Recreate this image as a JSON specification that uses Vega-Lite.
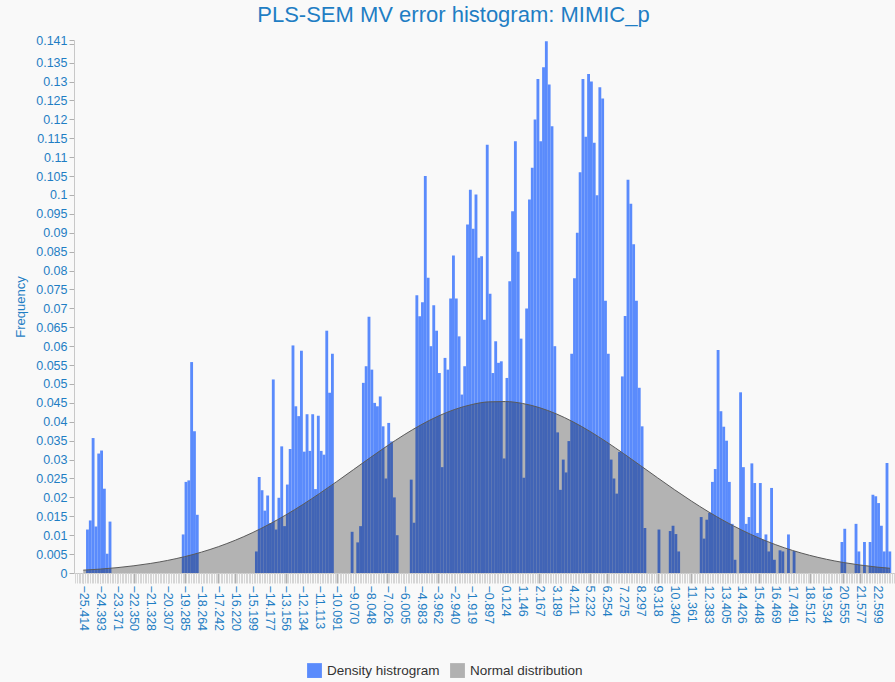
{
  "$schema": "https://vega.github.io/schema/vega-lite/v6.json",
  "width": 821,
  "height": 533,
  "autosize": {"type": "none"},
  "padding": {"left": 74, "top": 40, "right": 0, "bottom": 109},
  "background": "#f9f9f9",
  "config": {"font": "Liberation Sans", "view": {"stroke": null}},
  "title": {"text": "PLS-SEM MV error histogram: MIMIC_p", "fontSize": 22, "fontWeight": "normal", "color": "#1f7ec4", "anchor": "middle", "dx": -31, "offset": 7},
  "datasets": {
    "hist": [
      {"mid": -25.159, "freq": 0.0115}, {"mid": -24.988, "freq": 0.0139}, {"mid": -24.818, "freq": 0.0357}, {"mid": -24.648, "freq": 0.0123}, {"mid": -24.478, "freq": 0.0316}, {"mid": -24.307, "freq": 0.0324}, {"mid": -24.137, "freq": 0.0223}, {"mid": -23.967, "freq": 0.0051}, {"mid": -23.796, "freq": 0.0136},
      {"mid": -19.369, "freq": 0.0102}, {"mid": -19.199, "freq": 0.0241}, {"mid": -19.029, "freq": 0.0245}, {"mid": -18.859, "freq": 0.0558}, {"mid": -18.688, "freq": 0.0375}, {"mid": -18.518, "freq": 0.0154},
      {"mid": -14.942, "freq": 0.0057}, {"mid": -14.772, "freq": 0.0254}, {"mid": -14.602, "freq": 0.0219}, {"mid": -14.432, "freq": 0.0165}, {"mid": -14.261, "freq": 0.0205}, {"mid": -14.091, "freq": 0.0132}, {"mid": -13.921, "freq": 0.0512}, {"mid": -13.751, "freq": 0.0115}, {"mid": -13.580, "freq": 0.0199}, {"mid": -13.410, "freq": 0.0335}, {"mid": -13.240, "freq": 0.0124}, {"mid": -13.069, "freq": 0.0234}, {"mid": -12.899, "freq": 0.0328}, {"mid": -12.729, "freq": 0.0602}, {"mid": -12.559, "freq": 0.0441}, {"mid": -12.388, "freq": 0.0415}, {"mid": -12.218, "freq": 0.0588}, {"mid": -12.048, "freq": 0.0321}, {"mid": -11.878, "freq": 0.042}, {"mid": -11.707, "freq": 0.0323}, {"mid": -11.537, "freq": 0.042}, {"mid": -11.367, "freq": 0.0222}, {"mid": -11.197, "freq": 0.0416}, {"mid": -11.026, "freq": 0.0323}, {"mid": -10.856, "freq": 0.0313}, {"mid": -10.686, "freq": 0.0641}, {"mid": -10.515, "freq": 0.0477}, {"mid": -10.345, "freq": 0.058},
      {"mid": -9.153, "freq": 0.0109}, {"mid": -8.813, "freq": 0.0081}, {"mid": -8.642, "freq": 0.0124}, {"mid": -8.472, "freq": 0.0503}, {"mid": -8.302, "freq": 0.0547}, {"mid": -8.132, "freq": 0.0678}, {"mid": -7.961, "freq": 0.0538}, {"mid": -7.791, "freq": 0.045}, {"mid": -7.621, "freq": 0.0441}, {"mid": -7.451, "freq": 0.0467}, {"mid": -7.280, "freq": 0.0388}, {"mid": -7.110, "freq": 0.025}, {"mid": -6.940, "freq": 0.0397}, {"mid": -6.770, "freq": 0.0348}, {"mid": -6.599, "freq": 0.02}, {"mid": -6.429, "freq": 0.01},
      {"mid": -5.578, "freq": 0.0247}, {"mid": -5.407, "freq": 0.0133}, {"mid": -5.237, "freq": 0.0735}, {"mid": -5.067, "freq": 0.0679}, {"mid": -4.897, "freq": 0.0716}, {"mid": -4.726, "freq": 0.105}, {"mid": -4.556, "freq": 0.0781}, {"mid": -4.386, "freq": 0.06}, {"mid": -4.215, "freq": 0.0708}, {"mid": -4.045, "freq": 0.0641}, {"mid": -3.875, "freq": 0.0529}, {"mid": -3.705, "freq": 0.028}, {"mid": -3.534, "freq": 0.0569}, {"mid": -3.364, "freq": 0.0538}, {"mid": -3.194, "freq": 0.0726}, {"mid": -3.024, "freq": 0.084}, {"mid": -2.853, "freq": 0.0726}, {"mid": -2.683, "freq": 0.0626}, {"mid": -2.513, "freq": 0.0472}, {"mid": -2.342, "freq": 0.0547}, {"mid": -2.172, "freq": 0.0922}, {"mid": -2.002, "freq": 0.1014}, {"mid": -1.832, "freq": 0.0911}, {"mid": -1.661, "freq": 0.1001}, {"mid": -1.491, "freq": 0.0834}, {"mid": -1.321, "freq": 0.0838}, {"mid": -1.151, "freq": 0.067}, {"mid": -0.980, "freq": 0.1133}, {"mid": -0.810, "freq": 0.0739}, {"mid": -0.640, "freq": 0.0529}, {"mid": -0.469, "freq": 0.0613}, {"mid": -0.299, "freq": 0.0556}, {"mid": -0.129, "freq": 0.056}, {"mid": 0.041, "freq": 0.0303}, {"mid": 0.212, "freq": 0.0516}, {"mid": 0.382, "freq": 0.0772}, {"mid": 0.552, "freq": 0.0957}, {"mid": 0.722, "freq": 0.1142}, {"mid": 0.893, "freq": 0.085}, {"mid": 1.063, "freq": 0.062}, {"mid": 1.233, "freq": 0.0252}, {"mid": 1.404, "freq": 0.07}, {"mid": 1.574, "freq": 0.0988}, {"mid": 1.744, "freq": 0.1072}, {"mid": 1.914, "freq": 0.12}, {"mid": 2.085, "freq": 0.1307}, {"mid": 2.255, "freq": 0.1142}, {"mid": 2.425, "freq": 0.1338}, {"mid": 2.595, "freq": 0.1407}, {"mid": 2.766, "freq": 0.1292}, {"mid": 2.936, "freq": 0.1182}, {"mid": 3.106, "freq": 0.06}, {"mid": 3.277, "freq": 0.0372}, {"mid": 3.447, "freq": 0.022}, {"mid": 3.617, "freq": 0.03}, {"mid": 3.787, "freq": 0.0266}, {"mid": 3.958, "freq": 0.0349}, {"mid": 4.128, "freq": 0.058}, {"mid": 4.298, "freq": 0.078}, {"mid": 4.468, "freq": 0.09}, {"mid": 4.639, "freq": 0.106}, {"mid": 4.809, "freq": 0.1307}, {"mid": 4.979, "freq": 0.1154}, {"mid": 5.149, "freq": 0.132}, {"mid": 5.320, "freq": 0.13}, {"mid": 5.490, "freq": 0.1138}, {"mid": 5.660, "freq": 0.0999}, {"mid": 5.831, "freq": 0.1285}, {"mid": 6.001, "freq": 0.1255}, {"mid": 6.171, "freq": 0.072}, {"mid": 6.341, "freq": 0.058}, {"mid": 6.512, "freq": 0.03}, {"mid": 6.682, "freq": 0.025}, {"mid": 6.852, "freq": 0.021}, {"mid": 7.022, "freq": 0.032}, {"mid": 7.193, "freq": 0.052}, {"mid": 7.363, "freq": 0.068}, {"mid": 7.533, "freq": 0.104}, {"mid": 7.704, "freq": 0.0977}, {"mid": 7.874, "freq": 0.087}, {"mid": 8.044, "freq": 0.072}, {"mid": 8.214, "freq": 0.049}, {"mid": 8.385, "freq": 0.0388}, {"mid": 8.555, "freq": 0.0119},
      {"mid": 9.406, "freq": 0.0115}, {"mid": 10.087, "freq": 0.0111}, {"mid": 10.258, "freq": 0.0125}, {"mid": 10.428, "freq": 0.0103}, {"mid": 10.598, "freq": 0.0057},
      {"mid": 11.960, "freq": 0.0148}, {"mid": 12.131, "freq": 0.0091}, {"mid": 12.301, "freq": 0.0141}, {"mid": 12.471, "freq": 0.0159}, {"mid": 12.641, "freq": 0.0241}, {"mid": 12.812, "freq": 0.0275}, {"mid": 12.982, "freq": 0.059}, {"mid": 13.152, "freq": 0.0428}, {"mid": 13.322, "freq": 0.0387}, {"mid": 13.493, "freq": 0.035}, {"mid": 13.663, "freq": 0.0241}, {"mid": 13.833, "freq": 0.013}, {"mid": 14.004, "freq": 0.0035}, {"mid": 14.344, "freq": 0.0478}, {"mid": 14.514, "freq": 0.028}, {"mid": 14.685, "freq": 0.013}, {"mid": 14.855, "freq": 0.0148}, {"mid": 15.025, "freq": 0.029}, {"mid": 15.195, "freq": 0.0238}, {"mid": 15.366, "freq": 0.0106}, {"mid": 15.536, "freq": 0.0238}, {"mid": 15.706, "freq": 0.0088}, {"mid": 15.876, "freq": 0.0102}, {"mid": 16.047, "freq": 0.0057}, {"mid": 16.217, "freq": 0.0225}, {"mid": 16.387, "freq": 0.0035}, {"mid": 16.728, "freq": 0.006}, {"mid": 16.898, "freq": 0.0057}, {"mid": 17.239, "freq": 0.0102}, {"mid": 17.579, "freq": 0.0058},
      {"mid": 20.474, "freq": 0.0082}, {"mid": 20.644, "freq": 0.0117}, {"mid": 21.325, "freq": 0.013}, {"mid": 21.495, "freq": 0.0057}, {"mid": 21.836, "freq": 0.0082}, {"mid": 22.176, "freq": 0.0082}, {"mid": 22.347, "freq": 0.0207}, {"mid": 22.517, "freq": 0.0203}, {"mid": 22.687, "freq": 0.0185}, {"mid": 22.858, "freq": 0.0125}, {"mid": 23.028, "freq": 0.0057}, {"mid": 23.198, "freq": 0.0291}, {"mid": 23.368, "freq": 0.0057}
    ],
    "normal": [
      {"x": -25.414, "density": 0.00075}, {"x": -24.393, "density": 0.00103}, {"x": -23.371, "density": 0.00141}, {"x": -22.35, "density": 0.00191}, {"x": -21.328, "density": 0.00254}, {"x": -20.307, "density": 0.00333}, {"x": -19.285, "density": 0.00432}, {"x": -18.264, "density": 0.00552}, {"x": -17.242, "density": 0.00696}, {"x": -16.22, "density": 0.00866}, {"x": -15.199, "density": 0.01063}, {"x": -14.177, "density": 0.01287}, {"x": -13.156, "density": 0.01537}, {"x": -12.134, "density": 0.01811}, {"x": -11.113, "density": 0.02106}, {"x": -10.091, "density": 0.02416}, {"x": -9.07, "density": 0.02735}, {"x": -8.048, "density": 0.03054}, {"x": -7.026, "density": 0.03364}, {"x": -6.005, "density": 0.03656}, {"x": -4.983, "density": 0.0392}, {"x": -3.962, "density": 0.04147}, {"x": -2.94, "density": 0.04328}, {"x": -1.919, "density": 0.04456}, {"x": -0.897, "density": 0.04527}, {"x": 0.124, "density": 0.04536}, {"x": 1.146, "density": 0.04486}, {"x": 2.167, "density": 0.04376}, {"x": 3.189, "density": 0.04211}, {"x": 4.211, "density": 0.03998}, {"x": 5.232, "density": 0.03746}, {"x": 6.254, "density": 0.03461}, {"x": 7.275, "density": 0.03156}, {"x": 8.297, "density": 0.02839}, {"x": 9.318, "density": 0.0252}, {"x": 10.34, "density": 0.02206}, {"x": 11.361, "density": 0.01906}, {"x": 12.383, "density": 0.01624}, {"x": 13.405, "density": 0.01365}, {"x": 14.426, "density": 0.01133}, {"x": 15.448, "density": 0.00927}, {"x": 16.469, "density": 0.00748}, {"x": 17.491, "density": 0.00596}, {"x": 18.512, "density": 0.00469}, {"x": 19.534, "density": 0.00363}, {"x": 20.555, "density": 0.00278}, {"x": 21.577, "density": 0.0021}, {"x": 22.599, "density": 0.00156}, {"x": 23.38, "density": 0.00125}
    ]
  },
  "resolve": {"axis": {"x": "independent"}},
  "layer": [
    {
      "data": {"name": "hist"},
      "mark": {"type": "bar", "width": 2.85, "clip": true},
      "encoding": {
        "x": {
          "field": "mid", "type": "quantitative",
          "scale": {"domain": [-25.671, 23.38], "nice": false, "zero": false},
          "axis": {
            "orient": "bottom", "title": null, "grid": false,
            "values": [-25.414, -24.393, -23.371, -22.35, -21.328, -20.307, -19.285, -18.264, -17.242, -16.22, -15.199, -14.177, -13.156, -12.134, -11.113, -10.091, -9.07, -8.048, -7.026, -6.005, -4.983, -3.962, -2.94, -1.919, -0.897, 0.124, 1.146, 2.167, 3.189, 4.211, 5.232, 6.254, 7.275, 8.297, 9.318, 10.34, 11.361, 12.383, 13.405, 14.426, 15.448, 16.469, 17.491, 18.512, 19.534, 20.555, 21.577, 22.599],
            "format": ".3f", "labelAngle": 90, "labelColor": "#1f7ec4", "labelFontSize": 12.5, "labelPadding": 2, "labelOverlap": false,
            "tickColor": "#b0b0b0", "tickSize": 10, "domainColor": "#c8c8c8"
          }
        },
        "y": {
          "field": "freq", "type": "quantitative",
          "scale": {"domain": [0, 0.141], "nice": false},
          "axis": {
            "title": "Frequency", "titleColor": "#1f7ec4", "titleFontSize": 13, "titleFontWeight": "normal", "titlePadding": 8,
            "values": [0, 0.005, 0.01, 0.015, 0.02, 0.025, 0.03, 0.035, 0.04, 0.045, 0.05, 0.055, 0.06, 0.065, 0.07, 0.075, 0.08, 0.085, 0.09, 0.095, 0.1, 0.105, 0.11, 0.115, 0.12, 0.125, 0.13, 0.135, 0.14, 0.141],
            "format": ".3~f", "labelExpr": "datum.value == 0.14 ? '' : datum.label",
            "labelColor": "#1f7ec4", "labelFontSize": 12.5, "labelPadding": 2, "labelOverlap": false,
            "tickColor": "#b0b0b0", "tickSize": 5, "domainColor": "#c8c8c8", "grid": false
          }
        },
        "color": {
          "datum": "Density histrogram", "type": "nominal",
          "scale": {"domain": ["Density histrogram", "Normal distribution"], "range": ["#5a8bfc", "#000000"]},
          "legend": {
            "title": null, "orient": "none", "legendX": 233, "legendY": 623, "direction": "horizontal",
            "symbolType": "square", "symbolSize": 220, "symbolStrokeWidth": 0,
            "labelFontSize": 13.5, "labelColor": "#333", "columnPadding": 10, "labelOffset": 5,
            "encode": {"symbols": {"update": {
              "opacity": {"signal": "datum.value === 'Normal distribution' ? 0.29 : 1"}
            }}}
          }
        }
      }
    },
    {
      "data": {"name": "normal"},
      "mark": {"type": "area", "interpolate": "monotone", "opacity": 0.28, "clip": true},
      "encoding": {
        "x": {"field": "x", "type": "quantitative", "scale": {"domain": [-25.671, 23.38], "nice": false, "zero": false}, "axis": null},
        "y": {
          "field": "density", "type": "quantitative",
          "axis": {
            "title": "Frequency", "titleColor": "#1f7ec4", "titleFontSize": 13, "titleFontWeight": "normal", "titlePadding": 8,
            "values": [0, 0.005, 0.01, 0.015, 0.02, 0.025, 0.03, 0.035, 0.04, 0.045, 0.05, 0.055, 0.06, 0.065, 0.07, 0.075, 0.08, 0.085, 0.09, 0.095, 0.1, 0.105, 0.11, 0.115, 0.12, 0.125, 0.13, 0.135, 0.14, 0.141],
            "format": ".3~f", "labelExpr": "datum.value == 0.14 ? '' : datum.label",
            "labelColor": "#1f7ec4", "labelFontSize": 12.5, "labelPadding": 2, "labelOverlap": false,
            "tickColor": "#b0b0b0", "tickSize": 5, "domainColor": "#c8c8c8", "grid": false
          }
        },
        "color": {"datum": "Normal distribution", "type": "nominal"}
      }
    },
    {
      "data": {"name": "normal"},
      "mark": {"type": "line", "interpolate": "monotone", "color": "#5a5a5a", "strokeWidth": 1, "clip": true},
      "encoding": {
        "x": {
          "field": "x", "type": "quantitative", "scale": {"domain": [-25.671, 23.38], "nice": false, "zero": false},
          "axis": {"orient": "bottom", "title": null, "labels": false, "domain": false, "grid": false, "tickCount": 480, "tickColor": "#d6d6d6", "tickSize": 10, "tickWidth": 1}
        },
        "y": {
          "field": "density", "type": "quantitative",
          "axis": {
            "title": "Frequency", "titleColor": "#1f7ec4", "titleFontSize": 13, "titleFontWeight": "normal", "titlePadding": 8,
            "values": [0, 0.005, 0.01, 0.015, 0.02, 0.025, 0.03, 0.035, 0.04, 0.045, 0.05, 0.055, 0.06, 0.065, 0.07, 0.075, 0.08, 0.085, 0.09, 0.095, 0.1, 0.105, 0.11, 0.115, 0.12, 0.125, 0.13, 0.135, 0.14, 0.141],
            "format": ".3~f", "labelExpr": "datum.value == 0.14 ? '' : datum.label",
            "labelColor": "#1f7ec4", "labelFontSize": 12.5, "labelPadding": 2, "labelOverlap": false,
            "tickColor": "#b0b0b0", "tickSize": 5, "domainColor": "#c8c8c8", "grid": false
          }
        }
      }
    }
  ]
}
